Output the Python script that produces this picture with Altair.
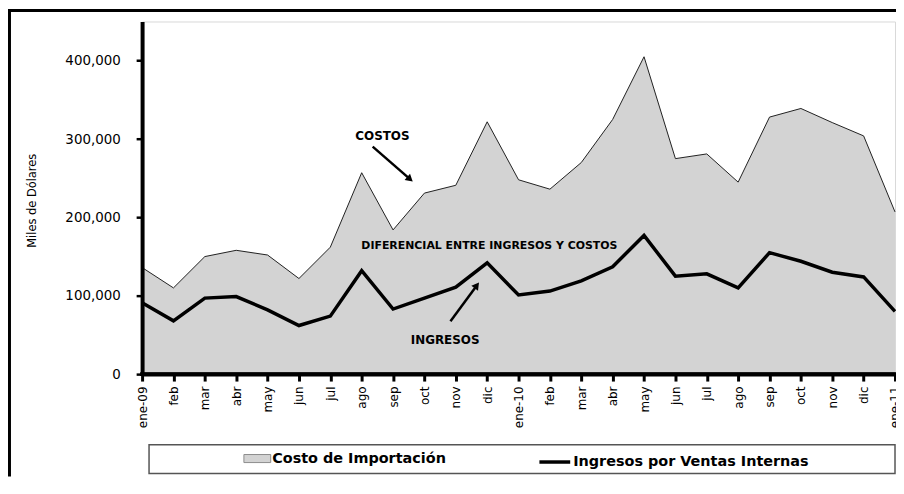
import json
import altair as alt
import pandas as pd

# ---------------- data ----------------
meses = ["ene-09", "feb", "mar", "abr", "may", "jun", "jul", "ago", "sep", "oct",
         "nov", "dic", "ene-10", "feb", "mar", "abr", "may", "jun", "jul", "ago",
         "sep", "oct", "nov", "dic", "ene-11"]
costo = [136000, 110000, 150000, 158000, 152000, 122000, 162000, 257000, 184000, 231000,
         241000, 322000, 248000, 236000, 270000, 325000, 405000, 275000, 281000, 245000,
         328000, 339000, 321000, 304000, 207000]
ingresos = [91000, 68000, 97000, 99000, 82000, 62000, 74000, 132000, 83000, 97000,
            111000, 142000, 101000, 106000, 119000, 137000, 177000, 125000, 128000, 110000,
            155000, 144000, 130000, 124000, 80000]
y_ticks = [0, 50000, 100000, 150000, 200000, 250000, 300000, 350000, 400000, 450000]

serie_costo = "Costo de Importación"
serie_ingresos = "Ingresos por Ventas Internas"

nota_textos = ["COSTOS", "DIFERENCIAL ENTRE INGRESOS Y COSTOS", "INGRESOS"]
nota_i = [7.66, 11.07, 9.66]
nota_valor = [303600, 163500, 44000]
nota_size = [12, 11, 12]

flecha_i = [7.35, 9.83]
flecha_valor = [290300, 67600]
flecha_i2 = [8.54, 10.67]
flecha_valor2 = [248800, 113200]
flecha_angulo = [131, 36.5]

# ---------------- tables ----------------
idx = list(range(len(meses)))
df_costo = pd.DataFrame({"i": idx, "mes": meses, "valor": costo, "serie": serie_costo})
df_ing = pd.DataFrame({"i": idx, "mes": meses, "valor": ingresos, "serie": serie_ingresos})
df_notas = pd.DataFrame({"texto": nota_textos, "i": nota_i, "valor": nota_valor, "size": nota_size})
df_flechas = pd.DataFrame({"i": flecha_i, "valor": flecha_valor, "i2": flecha_i2,
                           "valor2": flecha_valor2, "angulo": flecha_angulo})

FONT = "DejaVu Sans"
label_expr = json.dumps(meses) + "[datum.value]"

x_scale = alt.Scale(domain=[0, len(meses) - 1], nice=False, zero=False)
y_scale = alt.Scale(domain=[0, 450000], nice=False)
x_axis = alt.Axis(
    values=idx, labelExpr=label_expr, title=None, zindex=1, grid=False,
    domainColor="black", domainWidth=4, tickColor="black", tickWidth=3, tickSize=7,
    labelAngle=270, labelFont=FONT, labelFontSize=12, labelColor="black",
    labelPadding=5, labelFlush=False,
)
y_axis = alt.Axis(
    values=y_ticks, format=",d", zindex=1, grid=False,
    domainColor="black", domainWidth=4, tickColor="black", tickWidth=2.5, tickSize=6,
    labelFont=FONT, labelFontSize=13.5, labelColor="black", labelPadding=16,
    title="Miles de Dólares", titleFont=FONT, titleFontSize=11.5,
    titleFontWeight="normal", titleColor="black", titleAngle=270,
    titleX=-110, titleY=180, titleAlign="center", titleBaseline="middle",
)


def X(field):
    return alt.X(field, type="quantitative", scale=x_scale, axis=x_axis)


def Y(field):
    return alt.Y(field, type="quantitative", scale=y_scale, axis=y_axis)


one_row = alt.Data(values=[{"k": 1}])

frame_left = alt.Chart(one_row).mark_rule(color="black", strokeWidth=3).encode(
    x=alt.value(-133.5), y=alt.value(-12), y2=alt.value(458)
)
frame_top = alt.Chart(one_row).mark_rule(color="black", strokeWidth=3).encode(
    x=alt.value(-135), x2=alt.value(759), y=alt.value(-11)
)
legend_box = alt.Chart(one_row).mark_rect(filled=False, stroke="#555555", strokeWidth=1.5).encode(
    x=alt.value(7), x2=alt.value(758), y=alt.value(426), y2=alt.value(455)
)
baseline = alt.Chart(one_row).mark_rule(color="black", strokeWidth=4).encode(
    y=alt.datum(0), x=alt.value(-2), x2=alt.value(760)
)

area = alt.Chart(df_costo).mark_area(opacity=1).encode(
    x=X("i"), y=Y("valor"),
    fill=alt.Fill(
        "serie:N",
        scale=alt.Scale(domain=[serie_costo], range=["#d3d3d3"]),
        legend=alt.Legend(
            title=None, orient="none", legendX=102, legendY=426,
            symbolType="M-1,-0.3H1V0.3H-1Z", symbolSize=729,
            symbolStrokeColor="#8c8c8c", symbolStrokeWidth=1,
            labelFont=FONT, labelFontSize=14.5, labelFontWeight="bold",
            labelColor="black", labelOffset=1, padding=0, labelLimit=400,
        ),
    ),
)
area_edge = alt.Chart(df_costo).mark_line(color="#202020", strokeWidth=1).encode(
    x=X("i"), y=Y("valor")
)

line = alt.Chart(df_ing).mark_line(strokeWidth=3.5).encode(
    x=X("i"), y=Y("valor"),
    stroke=alt.Stroke(
        "serie:N",
        scale=alt.Scale(domain=[serie_ingresos], range=["#000000"]),
        legend=alt.Legend(
            title=None, orient="none", legendX=398, legendY=426,
            symbolType="stroke", symbolSize=961, symbolStrokeWidth=3.5,
            labelFont=FONT, labelFontSize=14.5, labelFontWeight="bold",
            labelColor="black", labelOffset=1, padding=0, labelLimit=400,
        ),
    ),
)

notas = alt.Chart(df_notas).mark_text(
    font=FONT, fontWeight="bold", color="black", align="center", baseline="middle"
).encode(x=X("i"), y=Y("valor"), text="texto:N",
         size=alt.Size("size:Q", scale=None, legend=None))

flechas = alt.Chart(df_flechas).mark_rule(color="black", strokeWidth=2.5).encode(
    x=X("i"), y=Y("valor"), x2="i2:Q", y2="valor2:Q"
)
puntas = alt.Chart(df_flechas).mark_point(
    shape="triangle-up", filled=True, size=70, color="black", opacity=1
).encode(x=X("i2"), y=Y("valor2"), angle=alt.Angle("angulo:Q", scale=None))

chart = alt.layer(
    frame_left, frame_top, legend_box, area, area_edge, line, notas, flechas, puntas, baseline
).properties(
    width=758, height=355,
    autosize=alt.AutoSizeParams(type="none"),
    padding={"left": 135, "top": 12, "right": 1, "bottom": 103},
    background="white",
).configure_view(
    stroke="#d9d9d9", strokeWidth=1
).configure_axis(grid=False)

chart.save("out.html", embed_options={"renderer": "svg", "actions": False})
